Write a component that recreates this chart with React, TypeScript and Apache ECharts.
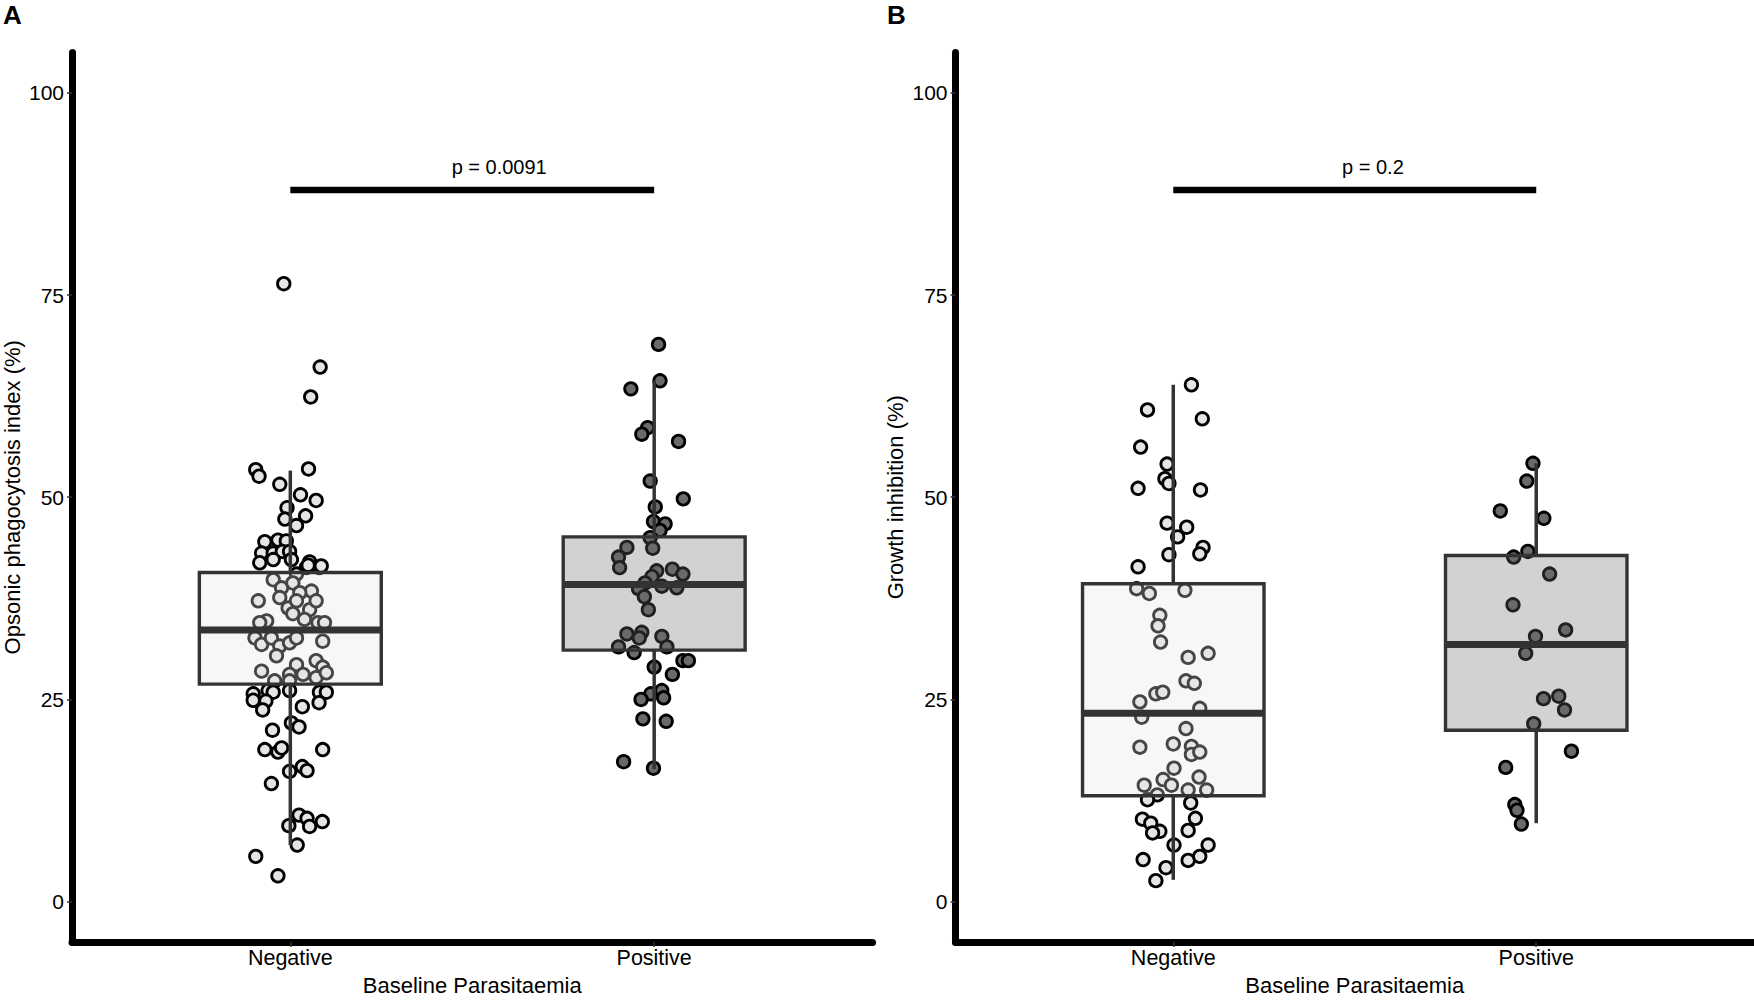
import React, { useEffect, useRef } from "react";
import * as echarts from "echarts";

// ---------- data ----------
const categories = ["Negative", "Positive"];
const yTicks = [0, 25, 50, 75, 100];

// [jitter offset from category centre, value]
const opsonicNegative: [number, number][] = [
  [-0.018, 76.4], [0.082, 66.1], [0.056, 62.4], [-0.095, 53.4], [-0.086, 52.6], [0.05, 53.5],
  [-0.029, 51.6], [0.028, 50.3], [0.071, 49.6], [-0.009, 48.7], [0.042, 47.7], [-0.015, 47.3],
  [0.017, 46.5], [-0.07, 44.5], [-0.034, 44.7], [-0.011, 44.6], [-0.079, 43.1], [-0.047, 43.1],
  [-0.022, 43.3], [-0.002, 43.3], [-0.084, 41.9], [0.003, 42.3], [0.053, 42.0], [0.08, 41.3],
  [0.044, 41.3], [0.017, 40.5], [-0.047, 42.3], [0.049, 41.6], [0.085, 41.5],
  [-0.088, 37.2], [-0.047, 39.8], [-0.024, 38.8], [0.007, 39.4], [0.058, 38.4], [0.026, 38.2],
  [-0.029, 37.6], [-0.006, 36.3], [0.017, 37.2], [0.053, 36.1], [0.071, 37.2], [0.007, 35.6],
  [0.039, 34.9], [0.076, 34.5], [0.094, 34.5], [-0.065, 34.7], [-0.084, 34.5], [-0.097, 32.6],
  [-0.079, 31.8], [-0.052, 32.6], [-0.029, 31.6], [-0.002, 32.0], [0.017, 32.6], [0.089, 32.2],
  [-0.038, 30.4], [0.017, 29.3], [0.071, 29.8], [0.089, 29.0], [-0.079, 28.5], [-0.002, 28.1],
  [0.035, 28.1], [-0.043, 27.3], [-0.002, 27.3], [0.071, 27.7], [0.099, 28.3],
  [-0.102, 25.7], [-0.061, 26.1], [-0.002, 26.1], [0.08, 25.9], [0.099, 25.9], [-0.047, 25.9],
  [-0.102, 24.9], [-0.067, 24.8], [-0.076, 23.7], [0.033, 24.1], [0.079, 24.6], [0.003, 22.1],
  [0.024, 21.6], [-0.049, 21.2], [-0.07, 18.8], [-0.034, 18.5], [-0.024, 19.0], [0.089, 18.8],
  [-0.002, 16.1], [0.033, 16.7], [0.046, 16.2], [-0.052, 14.6], [0.024, 10.7], [0.046, 10.3],
  [-0.004, 9.4], [0.053, 9.3], [0.088, 9.9], [0.019, 7.0], [-0.095, 5.6], [-0.034, 3.2],
];

const opsonicPositive: [number, number][] = [
  [0.012, 68.9], [0.016, 64.4], [-0.064, 63.4], [-0.018, 58.6], [-0.034, 57.8], [0.067, 56.9],
  [-0.011, 52.0], [0.08, 49.8], [0.003, 48.8], [-0.002, 47.0], [0.03, 46.7], [0.016, 45.9],
  [-0.011, 45.0], [-0.075, 43.8], [-0.004, 43.7], [-0.098, 42.6], [-0.095, 41.3], [0.007, 40.9],
  [0.05, 41.1], [0.079, 40.5], [-0.006, 40.2], [-0.025, 39.4], [0.021, 39.0], [0.062, 38.8],
  [-0.043, 38.7], [-0.027, 37.7], [-0.016, 36.1], [-0.075, 33.1], [-0.034, 33.3], [-0.041, 32.6],
  [0.021, 32.8], [-0.098, 31.5], [-0.055, 30.8], [0.035, 31.5], [0.079, 29.8], [0.094, 29.8],
  [0.0, 29.0], [0.05, 28.1], [-0.009, 25.7], [0.021, 26.1], [0.026, 25.2], [-0.036, 25.0],
  [-0.031, 22.6], [0.033, 22.3], [-0.084, 17.3], [-0.002, 16.5],
];

const growthNegative: [number, number][] = [
  [0.05, 63.9], [-0.071, 60.8], [0.08, 59.7], [-0.09, 56.2], [-0.017, 54.1], [-0.023, 52.3],
  [-0.012, 51.7], [-0.097, 51.1], [0.075, 50.9], [-0.017, 46.8], [0.037, 46.3], [0.012, 45.1],
  [0.082, 43.8], [0.073, 43.0], [-0.012, 42.9], [-0.097, 41.4], [-0.101, 38.7], [-0.066, 38.1],
  [0.032, 38.5], [-0.037, 35.4], [-0.042, 34.1], [-0.035, 32.1], [0.041, 30.2], [0.096, 30.7],
  [0.035, 27.3], [0.058, 27.0], [-0.048, 25.7], [-0.029, 25.9], [-0.092, 24.7], [0.073, 23.9],
  [-0.087, 22.8], [0.035, 21.4], [-0.092, 19.1], [0.0, 19.5], [0.05, 19.2], [0.05, 18.2],
  [0.073, 18.5], [0.002, 16.5], [-0.028, 15.1], [-0.005, 14.4], [0.071, 15.4], [-0.08, 14.4],
  [0.041, 13.8], [0.092, 13.8], [-0.044, 13.2], [-0.071, 12.6], [0.048, 12.2], [-0.085, 10.2],
  [-0.062, 9.7], [0.061, 10.3], [-0.037, 8.7], [-0.057, 8.5], [0.041, 8.8], [0.002, 7.0],
  [0.096, 7.0], [-0.083, 5.2], [0.041, 5.1], [0.073, 5.6], [-0.02, 4.2], [-0.048, 2.6],
];

const growthPositive: [number, number][] = [
  [-0.009, 54.2], [-0.026, 52.0], [-0.099, 48.3], [0.021, 47.4], [-0.062, 42.6], [-0.023, 43.3],
  [0.037, 40.5], [-0.064, 36.7], [0.081, 33.6], [-0.002, 32.8], [-0.029, 30.7], [0.02, 25.1],
  [0.062, 25.4], [0.078, 23.7], [-0.007, 22.0], [0.097, 18.6], [-0.084, 16.6], [-0.059, 12.0],
  [-0.053, 11.3], [-0.041, 9.6],
];

// box statistics: [lower whisker, Q1, median, Q3, upper whisker]
const opsonicBoxNegative = [7.0, 26.9, 33.6, 40.7, 53.3];
const opsonicBoxPositive = [16.4, 31.1, 39.2, 45.1, 64.4];
const growthBoxNegative = [2.7, 13.1, 23.3, 39.3, 63.9];
const growthBoxPositive = [9.7, 21.2, 31.8, 42.8, 54.2];

const opsonicPLabel = "p = 0.0091";
const growthPLabel = "p = 0.2";
const bracketValue = 88;

// ---------- styling ----------
const FONT = "'Liberation Sans', Arial, Helvetica, sans-serif";
const NEG_FILL = "#E5E5E5";
const POS_FILL = "#6A6A6A";
const BOX_FILLS = ["rgba(229,229,229,0.3)", "rgba(106,106,106,0.3)"];
const POINT_FILLS = [NEG_FILL, POS_FILL];
const BOX_STROKE = "#333333";

const panels = [
  {
    title: "Opsonic phagocytosis index (%)",
    neg: opsonicNegative,
    pos: opsonicPositive,
    boxes: [opsonicBoxNegative, opsonicBoxPositive],
    pLabel: opsonicPLabel,
    pLabelX: 1.574,
  },
  {
    title: "Growth inhibition (%)",
    neg: growthNegative,
    pos: growthPositive,
    boxes: [growthBoxNegative, growthBoxPositive],
    pLabel: growthPLabel,
    pLabelX: 1.55,
  },
];

function buildOption() {
  const grids = [
    { left: 71.5, top: 52.4, width: 801, height: 893.7 },
    { left: 955.5, top: 52.4, width: 798.5, height: 893.7 },
  ];
  const xAxes: any[] = [];
  const yAxes: any[] = [];
  const series: any[] = [];

  panels.forEach((p, gi) => {
    xAxes.push({
      type: "value",
      gridIndex: gi,
      min: 0.4,
      max: 2.6,
      splitLine: { show: false },
      axisLine: { show: true, onZero: false, lineStyle: { color: "#000", width: 7 } },
      axisTick: {
        show: true,
        customValues: [1, 2],
        length: 5,
        lineStyle: { color: "#333", width: 1.5 },
      },
      axisLabel: {
        customValues: [1, 2],
        formatter: (v: number) => categories[Math.round(v) - 1] ?? "",
        fontSize: 21.5,
        color: "#000",
        fontFamily: FONT,
        margin: 5,
      },
      name: "Baseline Parasitaemia",
      nameLocation: "middle",
      nameGap: 28,
      nameTextStyle: { fontSize: 22, color: "#000", fontFamily: FONT },
    });
    yAxes.push({
      type: "value",
      gridIndex: gi,
      min: -5,
      max: 105,
      splitLine: { show: false },
      axisLine: { show: true, onZero: false, lineStyle: { color: "#000", width: 7 } },
      axisTick: {
        show: true,
        customValues: yTicks,
        length: 5,
        lineStyle: { color: "#333", width: 1.5 },
      },
      axisLabel: {
        customValues: yTicks,
        fontSize: 21,
        color: "#000",
        fontFamily: FONT,
        margin: 8,
      },
      name: p.title,
      nameLocation: "middle",
      nameGap: 49,
      nameTextStyle: { fontSize: 22, color: "#000", fontFamily: FONT },
    });

    [p.neg, p.pos].forEach((pts, ci) => {
      series.push({
        type: "scatter",
        name: `${p.title} ${categories[ci]}`,
        xAxisIndex: gi,
        yAxisIndex: gi,
        data: pts.map(([j, v]) => [ci + 1 + j, v]),
        symbol: "circle",
        symbolSize: 12.5,
        itemStyle: {
          color: POINT_FILLS[ci],
          borderColor: "#000",
          borderWidth: 2.8,
          opacity: 1,
        },
        emphasis: { disabled: true },
        z: 2,
      });
    });

    series.push({
      type: "custom",
      xAxisIndex: gi,
      yAxisIndex: gi,
      z: 3,
      data: p.boxes.map((b, ci) => [ci + 1, ...b]),
      encode: { x: 0, y: [1, 2, 3, 4, 5] },
      renderItem: (params: any, api: any) => {
        const x = api.value(0);
        const lo = api.coord([x, api.value(1)]);
        const q1 = api.coord([x, api.value(2)]);
        const med = api.coord([x, api.value(3)]);
        const q3 = api.coord([x, api.value(4)]);
        const hi = api.coord([x, api.value(5)]);
        const left = api.coord([x - 0.25, api.value(3)])[0];
        const right = api.coord([x + 0.25, api.value(3)])[0];
        const cx = lo[0];
        const lineStyle = { stroke: BOX_STROKE, lineWidth: 3.5 };
        return {
          type: "group",
          children: [
            { type: "line", shape: { x1: cx, y1: q3[1], x2: cx, y2: hi[1] }, style: lineStyle },
            { type: "line", shape: { x1: cx, y1: q1[1], x2: cx, y2: lo[1] }, style: lineStyle },
            {
              type: "rect",
              shape: { x: left, y: q3[1], width: right - left, height: q1[1] - q3[1] },
              style: { fill: BOX_FILLS[params.dataIndex], stroke: BOX_STROKE, lineWidth: 3.4 },
            },
            {
              type: "line",
              shape: { x1: left, y1: med[1], x2: right, y2: med[1] },
              style: { stroke: BOX_STROKE, lineWidth: 7 },
            },
          ],
        };
      },
    });

    series.push({
      type: "custom",
      xAxisIndex: gi,
      yAxisIndex: gi,
      z: 4,
      data: [[1, 2, bracketValue]],
      encode: { x: [0, 1], y: 2 },
      renderItem: (_params: any, api: any) => {
        const a = api.coord([api.value(0), api.value(2)]);
        const b = api.coord([api.value(1), api.value(2)]);
        const t = api.coord([p.pLabelX, api.value(2) + 2.8]);
        return {
          type: "group",
          children: [
            {
              type: "line",
              shape: { x1: a[0], y1: a[1], x2: b[0], y2: b[1] },
              style: { stroke: "#000", lineWidth: 6.5 },
            },
            {
              type: "text",
              x: t[0],
              y: t[1],
              style: {
                text: p.pLabel,
                fontSize: 20,
                fontFamily: FONT,
                fill: "#000",
                align: "center",
                verticalAlign: "middle",
              },
            },
          ],
        };
      },
    });
  });

  return {
    animation: false,
    backgroundColor: "#ffffff",
    textStyle: { fontFamily: FONT },
    grid: grids,
    xAxis: xAxes,
    yAxis: yAxes,
    series,
    graphic: [
      {
        type: "text",
        x: 3,
        y: 2,
        style: { text: "A", fontSize: 26, fontWeight: "bold", fontFamily: FONT, fill: "#000" },
      },
      {
        type: "text",
        x: 887,
        y: 2,
        style: { text: "B", fontSize: 26, fontWeight: "bold", fontFamily: FONT, fill: "#000" },
      },
    ],
  };
}

export default function App() {
  const ref = useRef<HTMLDivElement>(null);
  useEffect(() => {
    if (!ref.current) return;
    const chart = echarts.init(ref.current, undefined, { renderer: "svg" });
    chart.setOption(buildOption() as any);
    return () => chart.dispose();
  }, []);
  return (
    <div
      ref={ref}
      style={{ position: "absolute", left: 0, top: 0, width: 1754, height: 1001, background: "#fff" }}
    />
  );
}
